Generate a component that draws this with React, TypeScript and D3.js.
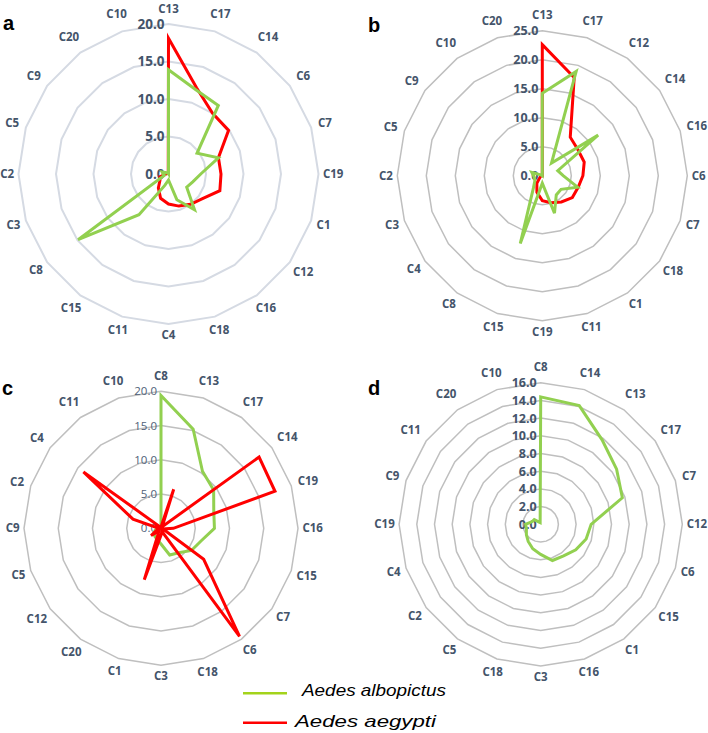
import React from "react";
import * as d3 from "d3";

const W = 708;
const H = 733;

// Panel a
const catsA = ["C13","C17","C14","C6","C7","C19","C1","C12","C16","C18","C4","C11","C15","C8","C3","C2","C5","C9","C20","C10"];
const albopictusA = [13.9, 11.8, 11.3, 4.7, 7.0, 4.3, 3.4, 3.0, 5.9, 3.6, 0.8, 1.6, 6.7, 14.9, 0.6, 0.7, 0.9, 0.3, 0.1, 0.0];
const aegyptiA = [18.1, 12.1, 10.0, 9.9, 7.0, 7.0, 7.2, 5.6, 5.0, 4.5, 4.0, 3.4, 2.3, 1.4, 1.2, 0.3, 0.2, 0.1, 0.1, 0.1];
const ticksA = [0, 5, 10, 15, 20];

// Panel b
const catsB = ["C13","C17","C12","C14","C16","C6","C7","C18","C1","C11","C19","C15","C8","C4","C3","C2","C5","C9","C10","C20"];
const albopictusB = [14.2, 18.9, 2.7, 11.9, 2.8, 3.6, 6.4, 4.0, 4.1, 6.8, 1.3, 12.3, 2.6, 1.6, 1.4, 1.5, 1.9, 0.2, 0.0, 0.0];
const aegyptiB = [22.6, 17.8, 8.2, 7.6, 7.6, 7.0, 6.5, 6.4, 5.6, 4.9, 4.3, 3.0, 1.6, 0.5, 0.3, 0.2, 0.0, 0.0, 0.0, 0.0];
const ticksB = [0, 5, 10, 15, 20, 25];

// Panel c
const catsC = ["C8","C13","C17","C14","C19","C16","C15","C7","C6","C18","C3","C1","C20","C12","C5","C9","C2","C4","C11","C10"];
const albopictusC = [19.4, 15.2, 10.3, 9.5, 8.1, 7.8, 6.1, 5.5, 4.4, 4.1, 2.3, 1.75, 1.5, 1.3, 0.9, 0.5, 0.2, 0.0, 0.0, 0.0];
const aegyptiC = [0.2, 6.0, 0.3, 17.7, 17.5, 1.8, 0.3, 7.7, 19.5, 0.5, 1.0, 7.9, 0.5, 1.8, 0.5, 0.3, 4.3, 14.0, 0.3, 0.2];
const ticksC = [0, 5, 10, 15, 20];

// Panel d
const catsD = ["C8","C14","C13","C17","C7","C12","C6","C15","C1","C16","C3","C18","C5","C2","C4","C19","C9","C11","C20","C10"];
const albopictusD = [14.4, 14.1, 11.8, 10.6, 9.7, 5.7, 5.4, 4.9, 4.4, 4.3, 3.4, 2.9, 2.4, 2.0, 1.7, 1.7, 1.0, 0.9, 0.3, 0.2];
const ticksD = [0, 2, 4, 6, 8, 10, 12, 14, 16];

const seriesNames = ["Aedes albopictus", "Aedes aegypti"];

const GREEN = "#92d050";
const RED = "#ff0000";
const LABEL = "#44546a";
const FONT = "'Open Sans', 'Noto Sans', sans-serif";

type Series = { values: number[]; color: string };

function Radar(props: {
  letter: string; lx: number; ly: number;
  cx: number; cy: number; R: number;
  ticks: number[]; cats: string[]; series: Series[];
  gridColor: string; gridWidth: number;
  tickSize: number; tickWeight: string | number; tickColor: string;
}) {
  const { cx, cy, R, ticks, cats, series } = props;
  const n = cats.length;
  const max = ticks[ticks.length - 1];
  const r = d3.scaleLinear().domain([0, max]).range([0, R]);
  const ang = d3.scaleLinear().domain([0, n]).range([0, 2 * Math.PI]);
  const line = d3.lineRadial<number>()
    .angle((_, i) => ang(i))
    .radius((v) => r(v))
    .curve(d3.curveLinearClosed);
  const fmt = d3.format(".1f");
  const fs = 11.5;
  return (
    <g>
      <text x={props.lx} y={props.ly} fontFamily="Liberation Sans, Arial, sans-serif" fontWeight="bold" fontSize={20} fill="#000">{props.letter}</text>
      <g transform={`translate(${cx},${cy})`}>
        {ticks.slice(1).map((t) => (
          <path key={t} d={line(cats.map(() => t)) || ""} fill="none" stroke={props.gridColor} strokeWidth={props.gridWidth} />
        ))}
        {ticks.map((t) => (
          <text key={t} x={-4} y={-r(t)} dy="0.36em" textAnchor="end" fontFamily={FONT} fontWeight={props.tickWeight} fontSize={props.tickSize} fill={props.tickColor}>{fmt(t)}</text>
        ))}
        {series.map((s, k) => (
          <path key={k} d={line(s.values) || ""} fill="none" stroke={s.color} strokeWidth={3} strokeLinejoin="miter" strokeMiterlimit={4} />
        ))}
        {cats.map((c, i) => {
          const a = ang(i);
          const sx = Math.sin(a);
          const sy = -Math.cos(a);
          const hw = ((0.62 + 0.57 * (c.length - 1)) * fs) / 2;
          const hh = 6.5;
          const topExtra = 4.5 * Math.max(0, -sy);
          const d = R + 4.5 + hw * Math.abs(sx) + hh * Math.abs(sy) + topExtra;
          return (
            <text key={c} x={d * sx} y={d * sy} dy="0.36em" textAnchor="middle" fontFamily={FONT} fontWeight="bold" fontSize={fs} fill={LABEL}>{c}</text>
          );
        })}
      </g>
    </g>
  );
}

export default function App() {
  return (
    <svg width={W} height={H} style={{ position: "absolute", left: 0, top: 0, background: "#fff" }}>
      <rect width={W} height={H} fill="#fff" />
      <Radar letter="a" lx={3} ly={30} cx={168.5} cy={174} R={150} ticks={ticksA} cats={catsA}
        series={[{ values: aegyptiA, color: RED }, { values: albopictusA, color: GREEN }]}
        gridColor="#d5dae3" gridWidth={2} tickSize={13.5} tickWeight="bold" tickColor={LABEL} />
      <Radar letter="b" lx={368} ly={32} cx={542.3} cy={175.7} R={145} ticks={ticksB} cats={catsB}
        series={[{ values: aegyptiB, color: RED }, { values: albopictusB, color: GREEN }]}
        gridColor="#bfbfbf" gridWidth={1.5} tickSize={12.5} tickWeight="bold" tickColor={LABEL} />
      <Radar letter="c" lx={2} ly={395} cx={161} cy={528.3} R={137} ticks={ticksC} cats={catsC}
        series={[{ values: albopictusC, color: GREEN }, { values: aegyptiC, color: RED }]}
        gridColor="#bfbfbf" gridWidth={1.5} tickSize={11.5} tickWeight="normal" tickColor="#4f5f78" />
      <Radar letter="d" lx={368} ly={395} cx={540.7} cy={524.3} R={141.6} ticks={ticksD} cats={catsD}
        series={[{ values: albopictusD, color: GREEN }]}
        gridColor="#bfbfbf" gridWidth={1.5} tickSize={12.5} tickWeight="bold" tickColor={LABEL} />
      {/* legend */}
      <line x1={243} x2={287} y1={693.3} y2={693.3} stroke="#a3d31b" strokeWidth={2.5} />
      <text x={302} y={695.7} fontFamily="Liberation Sans, Arial, sans-serif" fontStyle="italic" fontSize={17} fill="#000" textLength={144} lengthAdjust="spacingAndGlyphs">{seriesNames[0]}</text>
      <line x1={243} x2={287} y1={722.7} y2={722.7} stroke={RED} strokeWidth={2.5} />
      <text x={295} y={727.3} fontFamily="Liberation Sans, Arial, sans-serif" fontStyle="italic" fontSize={17} fill="#000" textLength={141} lengthAdjust="spacingAndGlyphs">{seriesNames[1]}</text>
    </svg>
  );
}
